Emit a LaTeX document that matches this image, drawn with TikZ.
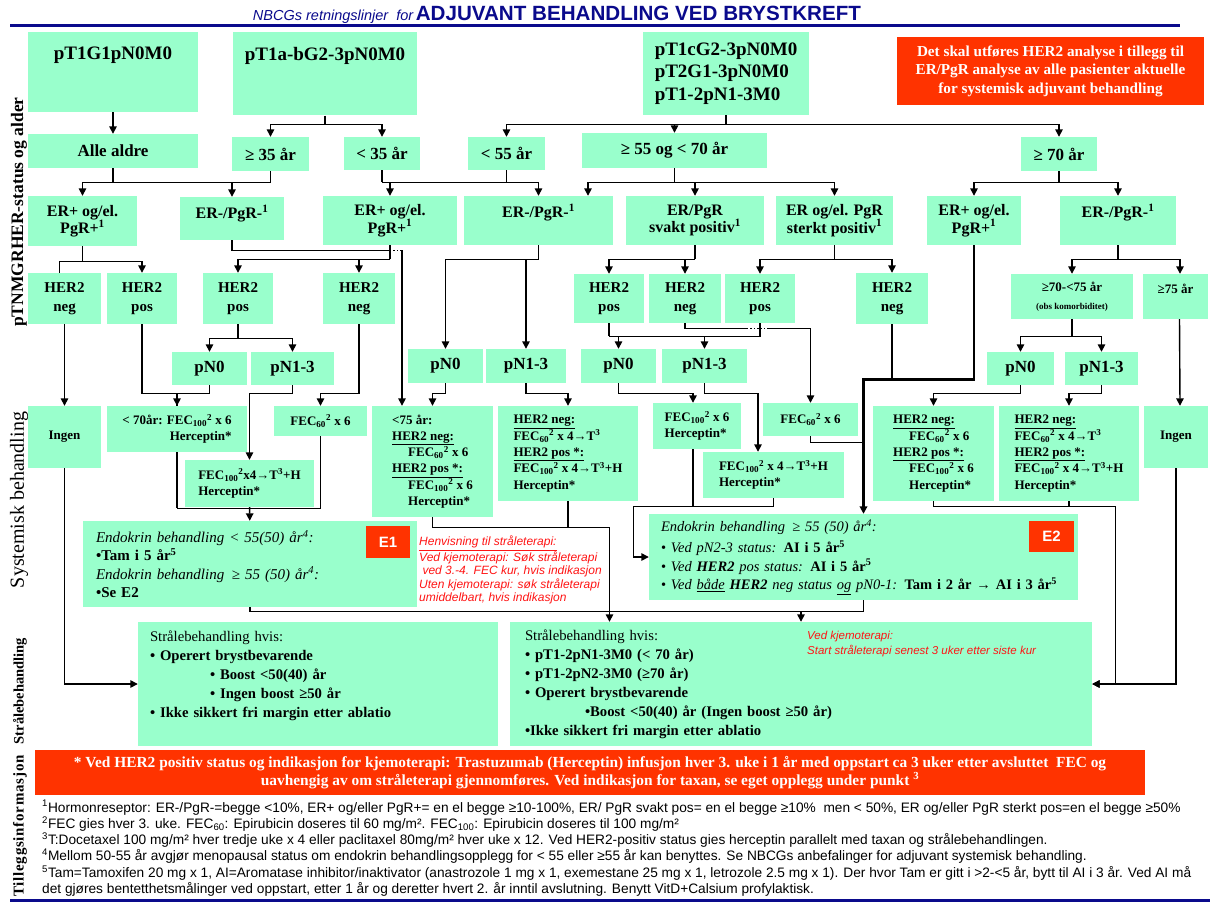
\documentclass[tikz,border=0pt]{standalone}
\usepackage{fontspec}
\setmainfont{Liberation Serif}
\newfontfamily\arial{Liberation Sans}
\usepackage{xcolor}
\usetikzlibrary{shapes,arrows.meta,positioning,calc}

\definecolor{boxgreen}{RGB}{153,255,204}
\definecolor{alertred}{RGB}{255,51,0}
\definecolor{titleblue}{RGB}{10,10,140}
\definecolor{notered}{RGB}{255,20,20}

\newcommand{\fsz}[2]{\fontsize{#1}{#2}\selectfont}
\newcommand{\fec}[2]{FEC\textsubscript{#1}\textsuperscript{#2}}

\begin{document}
\begin{tikzpicture}[
    x=1pt, y=-1pt,
    box/.style={rectangle, fill=boxgreen, inner sep=1pt, align=center},
    topbox/.style={box, anchor=north, inner ysep=15pt},
    stage/.style={box, font=\bfseries\fsz{19}{22.5}},
    age/.style={box, font=\bfseries\fsz{17}{20}},
    rec/.style={box, font=\bfseries\fsz{16}{17.5}},
    her/.style={box, font=\bfseries\fsz{15}{19}},
    pn/.style={box, font=\bfseries\fsz{17}{20}},
    tx/.style={box, align=left, font=\bfseries\fsz{13}{16.3}},
    endo/.style={box, align=left, font=\fsz{14.5}{18.3}},
    rt/.style={box, align=left, font=\fsz{14.7}{19}},
    tag/.style={rectangle, fill=alertred, text=white, font=\arial\bfseries\fsz{15}{17}},
    side/.style={rotate=90, inner sep=0pt},
    note/.style={anchor=north west, align=left, inner sep=1pt, text=notered, font=\arial\itshape\fsz{12}{13.5}},
    link/.style={line width=1.4pt},
    arrow/.style={link, -{Triangle[length=7.5pt,width=7.5pt]}}
]
\useasboundingbox (0,0) rectangle (1218,903);

% Title
\node[anchor=base, text=titleblue, inner sep=0pt] (title) at (557,20) {{\arial\itshape\fsz{14.5}{16}NBCGs retningslinjer\ \ for} {\arial\bfseries\fsz{20.6}{23}ADJUVANT BEHANDLING VED BRYSTKREFT}};
\draw[titleblue, line width=3pt] (10,25.5) -- (1180,25.5);
\draw[titleblue, line width=3pt] (10,900) -- (1210,900);

% Side labels
\node[side, font=\bfseries\fsz{17.5}{20}] (lab1) at (19,212) {pTNMGRHER-status og alder};
\node[side, font=\fsz{20}{22}] (lab2) at (19,500) {Systemisk behandling};
\node[side, font=\bfseries\fsz{14.5}{17}] (lab3) at (20,691) {Strålebehandling};
\node[side, font=\bfseries\fsz{15}{17}\addfontfeature{LetterSpace=5}] (lab4) at (20,826) {Tilleggsinformasjon};

% Stage
\node[topbox, minimum width=170pt, text depth=37pt, font=\bfseries\fsz{19}{22.5}] (t1) at (113,32) {pT1G1pN0M0};
\node[topbox, minimum width=184pt, text depth=40pt, font=\bfseries\fsz{19}{22.5}] (t2) at (325,32) {pT1a-bG2-3pN0M0};
\node[stage, align=left, minimum width=166pt, minimum height=83pt] (t3) at (726,73.5) {pT1cG2-3pN0M0\\pT2G1-3pN0M0\\pT1-2pN1-3M0};
\node[box, fill=alertred, text=white, font=\bfseries\fsz{15.2}{18.5}, minimum width=307pt, minimum height=68pt] (info) at (1050.5,71) {Det skal utføres HER2 analyse i tillegg til\\ER/PgR analyse av alle pasienter aktuelle\\for systemisk adjuvant behandling};

% Age
\node[age, minimum width=170pt, minimum height=34pt] (a1) at (113,151) {Alle aldre};
\node[age, minimum width=77pt, minimum height=34pt] (a2) at (270.5,154) {≥ 35 år};
\node[age, minimum width=76pt, minimum height=33pt] (a3) at (382,153.5) {< 35 år};
\node[age, minimum width=77pt, minimum height=33pt] (a4) at (506.5,153.5) {< 55 år};
\node[age, minimum width=185pt, minimum height=35pt] (a5) at (674.5,150.5) {≥ 55 og < 70 år};
\node[age, minimum width=76pt, minimum height=34pt] (a6) at (1059,154) {≥ 70 år};

% Receptor status
\node[rec, minimum width=109pt, minimum height=50pt] (r1) at (82.5,221) {ER+ og/el.\\PgR+\textsuperscript{1}};
\node[rec, minimum width=104pt, minimum height=43pt, text depth=14pt] (r2) at (232,218.5) {ER-/PgR-\textsuperscript{1}};
\node[rec, minimum width=134pt, minimum height=49pt] (r3) at (390,220.5) {ER+ og/el.\\PgR+\textsuperscript{1}};
\node[rec, minimum width=149pt, minimum height=49pt, text depth=20pt] (r4) at (538.5,220.5) {ER-/PgR-\textsuperscript{1}};
\node[rec, minimum width=138pt, minimum height=49pt] (r5) at (695,220.5) {ER/PgR\\svakt positiv\textsuperscript{1}};
\node[rec, minimum width=117pt, minimum height=49pt] (r6) at (834.5,220.5) {ER og/el. PgR\\sterkt positiv\textsuperscript{1}};
\node[rec, minimum width=94pt, minimum height=49pt] (r7) at (974,220.5) {ER+ og/el.\\PgR+\textsuperscript{1}};
\node[rec, minimum width=116pt, minimum height=49pt, text depth=20pt] (r8) at (1118,220.5) {ER-/PgR-\textsuperscript{1}};

% HER2
\node[her, minimum width=73pt, minimum height=51pt] (h1) at (64.5,298.5) {HER2\\neg};
\node[her, minimum width=70pt, minimum height=51pt] (h2) at (142,298.5) {HER2\\pos};
\node[her, minimum width=70pt, minimum height=51pt] (h3) at (238,298.5) {HER2\\pos};
\node[her, minimum width=72pt, minimum height=51pt] (h4) at (359,298.5) {HER2\\neg};
\node[her, minimum width=70pt, minimum height=49pt] (h5) at (609,298.5) {HER2\\pos};
\node[her, minimum width=72pt, minimum height=49pt] (h6) at (685,298.5) {HER2\\neg};
\node[her, minimum width=70pt, minimum height=49pt] (h7) at (760,298.5) {HER2\\pos};
\node[her, minimum width=72pt, minimum height=51pt] (h8) at (892,298.5) {HER2\\neg};
\node[box, font=\bfseries\fsz{13}{18}, minimum width=122pt, minimum height=45pt] (h9) at (1072,296.5) {≥70-<75 år\\{\fsz{9}{11}(obs komorbiditet)}};
\node[box, font=\bfseries\fsz{13}{18}, minimum width=65pt, minimum height=45pt, text depth=15pt] (h10) at (1175.5,296.5) {≥75 år};

% Nodal status
\node[pn, minimum width=75pt, minimum height=33pt] (n1) at (209.5,368.5) {pN0};
\node[pn, minimum width=83pt, minimum height=33pt] (n2) at (292.5,368.5) {pN1-3};
\node[pn, minimum width=75pt, minimum height=34pt] (n3) at (445.5,366) {pN0};
\node[pn, minimum width=80pt, minimum height=34pt] (n4) at (526,366) {pN1-3};
\node[pn, minimum width=75pt, minimum height=34pt] (n5) at (618.5,366) {pN0};
\node[pn, minimum width=85pt, minimum height=34pt] (n6) at (704.5,366) {pN1-3};
\node[pn, minimum width=67pt, minimum height=33pt] (n7) at (1020.5,368.5) {pN0};
\node[pn, minimum width=73pt, minimum height=33pt] (n8) at (1101.5,368.5) {pN1-3};

% Systemic treatment
\node[tx, align=center, minimum width=73pt, minimum height=62pt] (s1) at (64.5,437) {Ingen};
\node[tx, align=right, minimum width=140pt, minimum height=46pt] (s2) at (177,429) {< 70år: \fec{100}{2} x 6\\Herceptin*};
\node[tx, minimum width=93pt, minimum height=30pt] (s3) at (320.5,421) {\fec{60}{2} x 6};
\node[tx, minimum width=129pt, minimum height=47pt] (s4) at (249.5,483.5) {\fec{100}{2}x4→T\textsuperscript{3}+H\\Herceptin*};
\node[tx, minimum width=121pt, minimum height=111pt] (s5) at (432.5,461.5) {<75 år:\\\underline{HER2 neg:}\\\hspace*{16pt}\fec{60}{2} x 6\\\underline{HER2 pos *:}\\\hspace*{16pt}\fec{100}{2} x 6\\\hspace*{16pt}Herceptin*};
\node[tx, minimum width=140pt, minimum height=95pt] (s6) at (568,453.5) {\underline{HER2 neg:}\\\fec{60}{2} x 4→T\textsuperscript{3}\\\underline{HER2 pos *:}\\\fec{100}{2} x 4→T\textsuperscript{3}+H\\Herceptin*};
\node[tx, minimum width=88pt, minimum height=46pt] (s7) at (697,426) {\fec{100}{2} x 6\\Herceptin*};
\node[tx, minimum width=95pt, minimum height=33pt] (s8) at (810.5,419.5) {\fec{60}{2} x 6};
\node[tx, minimum width=141pt, minimum height=46pt] (s9) at (773.5,475) {\fec{100}{2} x 4→T\textsuperscript{3}+H\\Herceptin*};
\node[tx, minimum width=121pt, minimum height=95pt] (s10) at (933.5,453.5) {\underline{HER2 neg:}\\\hspace*{16pt}\fec{60}{2} x 6\\\underline{HER2 pos *:}\\\hspace*{16pt}\fec{100}{2} x 6\\\hspace*{16pt}Herceptin*};
\node[tx, minimum width=140pt, minimum height=95pt] (s11) at (1069,453.5) {\underline{HER2 neg:}\\\fec{60}{2} x 4→T\textsuperscript{3}\\\underline{HER2 pos *:}\\\fec{100}{2} x 4→T\textsuperscript{3}+H\\Herceptin*};
\node[tx, align=center, minimum width=64pt, minimum height=62pt] (s12) at (1176,437) {Ingen};

% Endocrine treatment
\node[endo, font=\fsz{15}{18.3}, text width=308pt, inner xsep=13pt, minimum height=86pt] (e1) at (250,564) {\textit{Endokrin behandling < 55(50) år\textsuperscript{4}:}\\\textbf{•Tam i 5 år\textsuperscript{5}}\\\textit{Endokrin behandling \,≥ 55 (50) år\textsuperscript{4}:}\\\textbf{•Se E2}};
\node[tag, minimum width=44pt, minimum height=32pt] (e1tag) at (388,542) {E1};
\node[endo, text width=405pt, inner xsep=12pt, minimum height=86pt] (e2) at (863.5,557) {\textit{Endokrin behandling \,≥ 55 (50) år\textsuperscript{4}:}\\[3pt]• \textit{Ved pN2-3 status:} \textbf{AI i 5 år\textsuperscript{5}}\\• \textit{Ved \textbf{HER2} pos status:} \textbf{AI i 5 år\textsuperscript{5}}\\• \textit{Ved \underline{både} \textbf{HER2} neg status \underline{og} pN0-1:} \textbf{Tam i 2 år → AI i 3 år\textsuperscript{5}}};
\node[tag, minimum width=45pt, minimum height=31pt] (e2tag) at (1051.5,536.5) {E2};
\node[note] (radnote) at (418,535) {\underline{Henvisning til stråleterapi:}\\Ved kjemoterapi: Søk stråleterapi\\\ ved 3.-4. FEC kur, hvis indikasjon\\Uten kjemoterapi: søk stråleterapi\\umiddelbart, hvis indikasjon};

% Radiotherapy
\node[rt, text width=336pt, inner xsep=12pt, minimum height=124pt] (rt1) at (318,684) {Strålebehandling hvis:\\\textbf{• Operert brystbevarende}\\\hspace*{60pt}\textbf{• Boost <50(40) år}\\\hspace*{60pt}\textbf{• Ingen boost ≥50 år}\\\textbf{• Ikke sikkert fri margin etter ablatio}\\\mbox{}};
\node[rt, text width=552pt, inner xsep=15pt, minimum height=124pt] (rt2) at (801,684) {Strålebehandling hvis:\\\textbf{• pT1-2pN1-3M0 (< 70 år)}\\\textbf{• pT1-2pN2-3M0 (≥70 år)}\\\textbf{• Operert brystbevarende}\\\hspace*{60pt}\textbf{•Boost <50(40) år (Ingen boost ≥50 år)}\\\textbf{•Ikke sikkert fri margin etter ablatio}};
\node[note, font=\arial\itshape\fsz{11.5}{15}] (kjemonote) at (806,630) {Ved kjemoterapi:\\Start stråleterapi senest 3 uker etter siste kur};

% Additional information
\node[box, fill=alertred, text=white, font=\bfseries\fsz{15.4}{17.5}, minimum width=1110pt, minimum height=45pt] (banner) at (590,772.5) {* Ved HER2 positiv status og indikasjon for kjemoterapi: Trastuzumab (Herceptin) infusjon hver 3. uke i 1 år med oppstart ca 3 uker etter avsluttet \ FEC og\\uavhengig av om stråleterapi gjennomføres. Ved indikasjon for taxan, se eget opplegg under punkt \textsuperscript{3}};
\node[anchor=north west, align=left, inner sep=0pt, font=\arial\fsz{13.7}{16.3}] (notes) at (42,800) {\textsuperscript{1}Hormonreseptor: ER-/PgR-=begge <10\%, ER+ og/eller PgR+= en el begge ≥10-100\%, ER/ PgR svakt pos= en el begge ≥10\% \ men < 50\%, ER og/eller PgR sterkt pos=en el begge ≥50\%\\
\textsuperscript{2}FEC gies hver 3. uke. FEC\textsubscript{60}: Epirubicin doseres til 60 mg/m². FEC\textsubscript{100}: Epirubicin doseres til 100 mg/m²\\
\textsuperscript{3}T:Docetaxel 100 mg/m² hver tredje uke x 4 eller paclitaxel 80mg/m² hver uke x 12. Ved HER2-positiv status gies herceptin parallelt med taxan og strålebehandlingen.\\
\textsuperscript{4}Mellom 50-55 år avgjør menopausal status om endokrin behandlingsopplegg for < 55 eller ≥55 år kan benyttes. Se NBCGs anbefalinger for adjuvant systemisk behandling.\\
\textsuperscript{5}Tam=Tamoxifen 20 mg x 1, AI=Aromatase inhibitor/inaktivator (anastrozole 1 mg x 1, exemestane 25 mg x 1, letrozole 2.5 mg x 1). Der hvor Tam er gitt i >2-<5 år, bytt til AI i 3 år. Ved AI må\\
det gjøres bentetthetsmålinger ved oppstart, etter 1 år og deretter hvert 2. år inntil avslutning. Benytt VitD+Calsium profylaktisk.};

% Arrows: stage -> age
\draw[arrow] (t1) -- (a1);
\draw[link] (t2.south) -- ++(0,9) coordinate (t2b);
\draw[arrow] (t2b) -| (a2.north);
\draw[arrow] (t2b) -| (a3.north);
\draw[link] (t3.south) -- ++(0,9) coordinate (t3b);
\foreach \n in {a4,a5,a6}
    \draw[arrow] (t3b) -| (\n.north);

% age -> receptor
\draw[link] (a1.south) -- ++(0,14);
\draw[link] (a2.south) -- ++(0,11) coordinate (a2b);
\draw[arrow] (a2b) -| (r1.north);
\draw[arrow] (a2b) -| (r2.north);
\draw[link] (a3.south) -- ++(0,12) coordinate (a3b);
\draw[arrow] (a3b) -| (r3.north);
\draw[arrow] (a3b) -| (r4.north);
\draw[link] (a4.south) -- (a4.south |- a3b);
\draw[link] (a5.south) -- ++(0,14) coordinate (a5b);
\draw[arrow] (a5b) -| ([xshift=49.5pt]r4.north);
\draw[arrow] (a5b) -| (r5.north);
\draw[arrow] (a5b) -| (r6.north);
\draw[link] (a6.south) -- ++(0,11) coordinate (a6b);
\draw[arrow] (a6b) -| (r7.north);
\draw[arrow] (a6b) -| (r8.north);

% receptor -> HER2 / pN
\draw[link] (r1.south) -- ++(0,15) coordinate (r1b);
\draw[link] (r1b) -| ([xshift=-5pt]h1.north);
\draw[arrow] (r1b) -| (h2.north);
\draw[link] (r3.south) -- ++(0,14) coordinate (r3b);
\draw[arrow] (r3b) -| (h3.north);
\draw[arrow] (r3b) -| (h4.north);
\draw[link] (r2.south) -- ++(0,10) coordinate (r2b) -- (r2b -| r3b);
\draw[link, dotted] (r2b -| r3b) -- ++(12,0) coordinate (r2c);
\draw[arrow] (r2c) -- (r2c |- s5.north);
\draw[link] (r4.south) -- ++(0,14) coordinate (r4b);
\draw[arrow] (r4b) -| (n3.north);
\draw[arrow] (r4b) -| (n4.north);
\draw[link] (r5.south) -- ++(0,14) coordinate (r5b);
\draw[arrow] (r5b) -| (h5.north);
\draw[arrow] (r5b) -| (h6.north);
\draw[link] (r6.south) -- ++(0,14) coordinate (r6b);
\draw[arrow] (r6b) -| (h7.north);
\draw[arrow] (r6b) -| (h8.north);
\draw[arrow, line width=2.6pt] (r7.south) -- ++(0,134) -| (e2.north);
\draw[link] (h8.south) -- ++(0,55);
\draw[link] (r8.south) -- ++(0,14) coordinate (r8b);
\draw[arrow] (r8b) -| (h9.north);
\draw[arrow] (r8b) -| ([xshift=4.5pt]h10.north);

% HER2 -> pN
\draw[link] (h3.south) -- ++(0,14) coordinate (h3b);
\draw[arrow] (h3b) -| (n1.north);
\draw[arrow] (h3b) -| (n2.north);
\draw[link] (h5.south) -- ++(0,13) coordinate (h5b);
\draw[arrow] (h5b) -| (n5.north);
\draw[arrow] (h5b) -| (n6.north);
\draw[link] (h7.south) |- (h5b);
\draw[link] (h9.south) -- ++(0,17) coordinate (h9b);
\draw[arrow] (h9b) -| (n7.north);
\draw[arrow] (h9b) -| (n8.north);

% -> systemic treatment
\draw[arrow] (h1) -- (s1);
\draw[arrow] (h2.south) -- ++(0,69) -| (s2.north);
\draw[link] (n1.south) -- ++(0,8) -| (s2.north);
\draw[arrow] (n2.south) -- ++(0,8) -| (s4.north);
\draw[arrow] (h4.south) -- ++(0,69) -| (s3.north);
\draw[arrow] (n3.south) -- ++(0,10) -| (s5.north);
\draw[arrow] (n4.south) -- ++(0,10) -| (s6.north);
\draw[arrow] (n5.south) -- ++(0,10) -| ([xshift=-4pt]s7.north);
\draw[arrow] (n6.south) -- ++(0,10) -| ([xshift=-15.5pt]s9.north);
\draw[link] (h6.south) -- ++(0,5) coordinate (h6b) -- ++(62,0) coordinate (h6c);
\draw[link, dotted] (h6c) -- ++(20,0) coordinate (h6d);
\draw[arrow] (h6d) -| (s8.north);
\draw[arrow] (n7.south) -- ++(0,8) -| (s10.north);
\draw[arrow] (n8.south) -- ++(0,8) -| (s11.north);
\draw[arrow] ([xshift=4pt]h10.south) -- ([xshift=4pt]s12.north);

% -> endocrine
\draw[link] (s2.south) -- ++(0,56) coordinate (s2b);
\draw[link] (s3.south) |- (s2b);
\draw[arrow] (s4) -- (e1);
\draw[link] (s8.south) -- ++(0,6) -- ++(53,0);
\draw[link] (s9.south) -- ++(0,8) coordinate (s9b) -- ++(-140,0) coordinate (s9c);
\draw[link] ([xshift=-4pt]s7.south) -- ([xshift=-4pt]s7.south |- s9b);
\draw[arrow] (s9c) |- (e2.west);

% -> radiotherapy
\draw[link] (s5.south) -- ++(0,10) coordinate (s5b) -- ++(177,0) coordinate (s5c);
\draw[link] (s6.south) -- (s6.south |- s5b);
\draw[link] (e1.south) -- ++(0,4) coordinate (e1b) -- (e1b -| e2.south) -- (e2.south);
\draw[link] (s5c) -- (s5c |- e1b);
\draw[arrow] (s5c |- e1b) -- (s5c |- rt2.north);
\draw[arrow] (e1b -| rt2.north) -- (rt2.north);
\draw[arrow] (s1.south) |- (rt1.west);
\draw[link] (s10.south) -- ++(0,5) coordinate (s10b) -- ++(182,0) coordinate (s10c);
\draw[link] (s11.south) -- (s11.south |- s10b);
\draw[arrow] (s10c) |- (rt2.east);
\draw[arrow] (s12.south) |- (rt2.east);

\end{tikzpicture}
\end{document}
